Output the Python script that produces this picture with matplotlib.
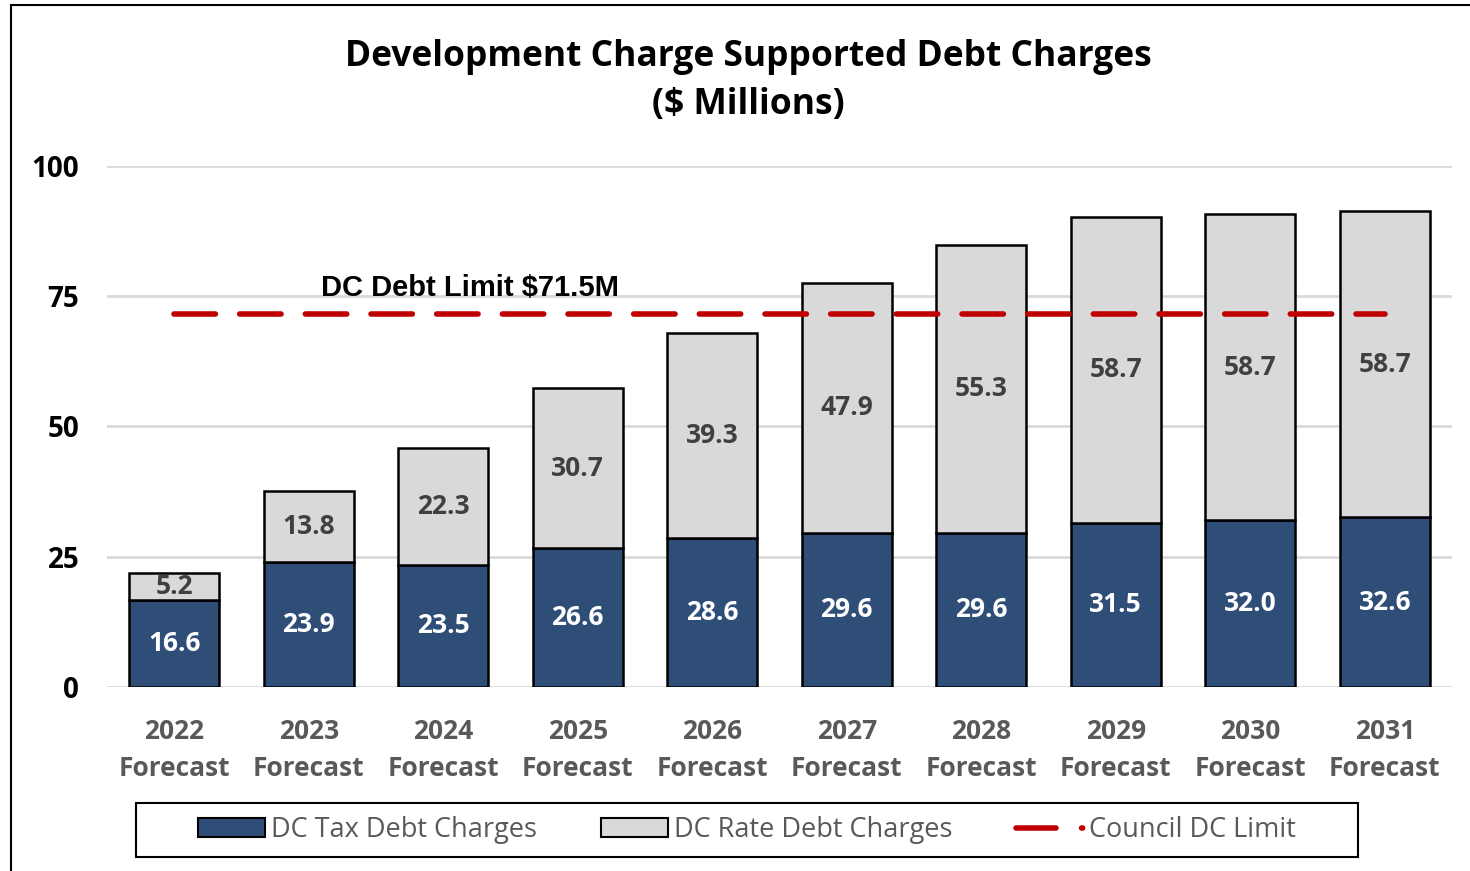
import matplotlib.pyplot as plt
from matplotlib.lines import Line2D
from matplotlib.patches import Patch, Rectangle

years = ["2022", "2023", "2024", "2025", "2026", "2027", "2028", "2029", "2030", "2031"]
tick_labels = [y + "\nForecast" for y in years]
tax_debt = [16.6, 23.9, 23.5, 26.6, 28.6, 29.6, 29.6, 31.5, 32.0, 32.6]
rate_debt = [5.2, 13.8, 22.3, 30.7, 39.3, 47.9, 55.3, 58.7, 58.7, 58.7]
council_limit = 71.5

navy = "#2E4D77"
light = "#D9D9D9"
red = "#C00000"
gray_txt = "#595959"

plt.rcParams["font.family"] = ["Open Sans", "DejaVu Sans"]

fig = plt.figure(figsize=(14.7, 8.71), dpi=100)
ax = fig.add_axes([0.0728, 0.2113, 0.915, 0.5981])

x = list(range(len(years)))
w = 0.67
ax.bar(x, tax_debt, w, color=navy, edgecolor="black", linewidth=1.8, zorder=2)
ax.bar(x, rate_debt, w, bottom=tax_debt, color=light, edgecolor="black", linewidth=1.8, zorder=2)

for i in x:
    ax.text(i, tax_debt[i] / 2, f"{tax_debt[i]:.1f}", ha="center", va="center",
            color="white", fontsize=19, fontweight="bold", zorder=4)
    ax.text(i, tax_debt[i] + rate_debt[i] / 2, f"{rate_debt[i]:.1f}", ha="center", va="center",
            color="#404040", fontsize=19, fontweight="bold", zorder=4)

# council limit line, drawn over the bars
ax.plot([x[0], x[-1]], [council_limit, council_limit], color=red, linewidth=4,
        dashes=(7.45, 4.37), dash_capstyle="round", zorder=3)
ax.text(2.2, 76.6, "DC Debt Limit $71.5M", ha="center", va="center", fontsize=21,
        fontweight="bold", family=["Liberation Sans", "DejaVu Sans"], zorder=4)

ax.set_xlim(-0.5, len(years) - 0.5)
ax.set_ylim(0, 100)
ax.set_yticks([0, 25, 50, 75, 100])
ax.set_yticklabels(["0", "25", "50", "75", "100"], fontsize=20, fontweight="bold")
ax.set_xticks(x)
ax.set_xticklabels(tick_labels, fontsize=19, fontweight="bold", color=gray_txt, linespacing=1.5)
ax.tick_params(axis="y", length=0, pad=20)
ax.tick_params(axis="x", length=0, pad=22)
ax.grid(axis="y", color=light, linewidth=2, zorder=0)
ax.set_axisbelow(True)
for s in ax.spines.values():
    s.set_visible(False)

fig.suptitle("Development Charge Supported Debt Charges\n($ Millions)", x=0.509, y=0.955,
             fontsize=25.5, fontweight="bold", linespacing=1.45)

handles = [
    Patch(facecolor=navy, edgecolor="black", linewidth=1.5),
    Patch(facecolor=light, edgecolor="black", linewidth=1.5),
    Line2D([0], [0], color=red, linewidth=4, dashes=(7.2, 4.6, 0.2, 30), dash_capstyle="round"),
]
leg = fig.legend(handles, ["DC Tax Debt Charges", "DC Rate Debt Charges", "Council DC Limit"],
                 loc="center", bbox_to_anchor=(0.508, 0.047), ncol=3, frameon=False,
                 fontsize=19.5, handlelength=2.5, handleheight=0.7, handletextpad=0.2,
                 columnspacing=2.35, borderpad=0, labelcolor=gray_txt)

fig.add_artist(Rectangle((136 / 1470, 1 - 857 / 871), (1358 - 136) / 1470, 54 / 871,
                         transform=fig.transFigure, fill=False, edgecolor="black", linewidth=1.5))
fig.add_artist(Rectangle((11 / 1470, -0.05), 1.2, 1 - 5 / 871 + 0.05, transform=fig.transFigure,
                         fill=False, edgecolor="black", linewidth=1.5))

fig.savefig("out.png", dpi=100)
